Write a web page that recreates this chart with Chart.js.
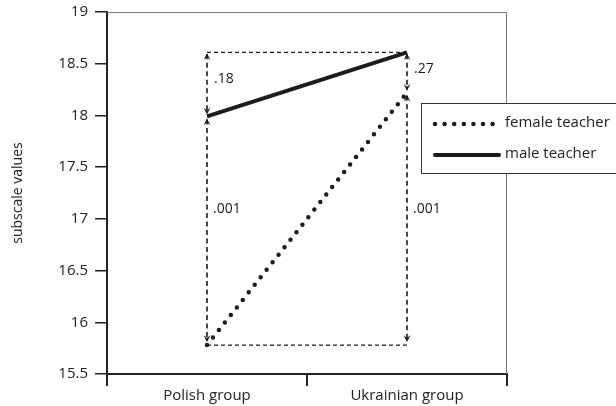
<!DOCTYPE html>
<html>
<head>
<meta charset="utf-8">
<script src="https://cdn.jsdelivr.net/npm/chart.js@4/dist/chart.umd.min.js"></script>
<style>
  html, body { margin: 0; padding: 0; background: #fff; }
  canvas { display: block; }
</style>
</head>
<body>
<canvas id="chart" width="616" height="406"></canvas>
<script>
(function () {
    "use strict";

    // data
    const categories = ["Polish group", "Ukrainian group"];
    const femaleTeacher = [15.78, 18.22];
    const maleTeacher = [17.99, 18.61];
    // p-values for the upper and lower gap at each group
    const upperP = [".18", ".27"];
    const lowerP = [".001", ".001"];
    const yMin = 15.5;
    const yMax = 19;
    const yStep = 0.5;

    const ink = "#1c1c1c";
    const font = "'Open Sans', 'DejaVu Sans', sans-serif";

    function arrowHead(ctx, x, y, dir) {
        // dir: -1 points up, 1 points down; (x, y) is the tip
        ctx.beginPath();
        ctx.moveTo(x, y);
        ctx.lineTo(x - 3.5, y - dir * 7);
        ctx.lineTo(x, y - dir * 4);
        ctx.lineTo(x + 3.5, y - dir * 7);
        ctx.closePath();
        ctx.fill();
    }

    // dashed brackets with arrows and p-values
    const gapMarks = {
        id: "gapMarks",
        beforeDatasetsDraw(chart) {
            const ctx = chart.ctx;
            const x = chart.scales.x;
            const y = chart.scales.y;
            const top = Math.max(...maleTeacher, ...femaleTeacher);
            const bottom = Math.min(...maleTeacher, ...femaleTeacher);
            const yTop = y.getPixelForValue(top);
            const yBot = y.getPixelForValue(bottom);
            const x0 = x.getPixelForValue(0);
            const x1 = x.getPixelForValue(categories.length - 1);

            ctx.save();
            ctx.strokeStyle = ink;
            ctx.fillStyle = ink;
            ctx.lineWidth = 1.3;
            ctx.setLineDash([4, 3]);
            ctx.beginPath();
            ctx.moveTo(x0, yTop);
            ctx.lineTo(x1, yTop);
            ctx.moveTo(x0, yBot);
            ctx.lineTo(x1, yBot);
            ctx.stroke();

            categories.forEach((c, i) => {
                const hi = Math.max(maleTeacher[i], femaleTeacher[i]);
                const lo = Math.min(maleTeacher[i], femaleTeacher[i]);
                const mid = hi < top ? hi : lo;
                const px = x.getPixelForValue(i);
                const yMid = y.getPixelForValue(mid);

                ctx.setLineDash([5, 3.5]);
                ctx.lineWidth = 1.6;
                ctx.beginPath();
                ctx.moveTo(px, yTop + 2);
                ctx.lineTo(px, yMid - 3);
                ctx.moveTo(px, yMid + 3);
                ctx.lineTo(px, yBot - 4);
                ctx.stroke();

                ctx.setLineDash([]);
                arrowHead(ctx, px, yTop + 1, -1);
                arrowHead(ctx, px, yMid - 2, 1);
                arrowHead(ctx, px, yMid + 2, -1);
                arrowHead(ctx, px, yBot - 3, 1);

                ctx.font = "14px " + font;
                ctx.textAlign = "left";
                ctx.textBaseline = "middle";
                ctx.fillText(upperP[i], px + 7, yTop + 0.42 * (yMid - yTop));
                ctx.fillText(lowerP[i], px + 6, y.getPixelForValue(17.0) - 10);
            });
            ctx.restore();
        },
        afterDraw(chart) {
            const ctx = chart.ctx;
            const a = chart.chartArea;
            ctx.save();
            // thin top/right frame
            ctx.strokeStyle = "#777";
            ctx.lineWidth = 1;
            ctx.beginPath();
            ctx.moveTo(a.left, a.top + 0.5);
            ctx.lineTo(a.right - 0.5, a.top + 0.5);
            ctx.lineTo(a.right - 0.5, a.bottom);
            ctx.stroke();

            // legend box
            const lx = 421, ly = 103;
            ctx.fillStyle = "#fff";
            ctx.fillRect(lx, ly, 210, 71);
            ctx.strokeStyle = "#333";
            ctx.strokeRect(lx + 0.5, ly + 0.5, 210, 70);

            const sets = chart.data.datasets;
            const rows = [ly + 21, ly + 52];
            sets.forEach((ds, i) => {
                ctx.strokeStyle = ink;
                ctx.lineWidth = ds.borderWidth;
                ctx.lineCap = "round";
                ctx.setLineDash(ds.borderDash || []);
                ctx.beginPath();
                ctx.moveTo(lx + 14, rows[i]);
                ctx.lineTo(lx + 78, rows[i]);
                ctx.stroke();
                ctx.setLineDash([]);
                ctx.fillStyle = "#222";
                ctx.font = "15px " + font;
                ctx.textAlign = "left";
                ctx.textBaseline = "middle";
                ctx.fillText(ds.label, lx + 84, rows[i] - 1);
            });
            ctx.restore();
        },
    };

    new Chart(document.getElementById("chart"), {
        type: "line",
        data: {
            labels: categories,
            datasets: [
                {
                    label: "female teacher",
                    data: femaleTeacher,
                    borderColor: ink,
                    borderWidth: 4.5,
                    borderDash: [0, 9.6],
                    borderCapStyle: "round",
                    pointRadius: 0,
                    fill: false,
                },
                {
                    label: "male teacher",
                    data: maleTeacher,
                    borderColor: ink,
                    borderWidth: 4,
                    pointRadius: 0,
                    fill: false,
                },
            ],
        },
        options: {
            responsive: false,
            animation: false,
            devicePixelRatio: 1,
            layout: {
                padding: { top: 12, right: 109, bottom: 0, left: 0 },
            },
            plugins: {
                legend: { display: false },
                tooltip: { enabled: false },
            },
            scales: {
                x: {
                    offset: true,
                    grid: {
                        offset: true,
                        drawOnChartArea: false,
                        tickLength: 12,
                        color: "#222",
                        lineWidth: 2,
                    },
                    border: { color: "#222", width: 2 },
                    ticks: {
                        color: "#222",
                        padding: 1,
                        font: { family: font, size: 15 },
                    },
                    afterFit(scale) {
                        scale.height = 32;
                        scale.paddingLeft = 0;
                        scale.paddingRight = 0;
                    },
                },
                y: {
                    min: yMin,
                    max: yMax,
                    grid: {
                        drawOnChartArea: false,
                        tickLength: 12,
                        color: "#222",
                        lineWidth: 1.5,
                    },
                    border: { color: "#222", width: 2 },
                    ticks: {
                        stepSize: yStep,
                        color: "#222",
                        padding: 7,
                        font: { family: font, size: 15 },
                        callback: (v) => String(Number(v.toFixed(1))),
                    },
                    title: {
                        display: true,
                        text: "subscale values",
                        color: "#222",
                        padding: { top: 10, bottom: 0 },
                        font: { family: font, size: 14 },
                    },
                    afterFit(scale) {
                        scale.width = 107;
                        scale.paddingTop = 0;
                        scale.paddingBottom = 0;
                    },
                },
            },
        },
        plugins: [gapMarks],
    });
})();
</script>
</body>
</html>
